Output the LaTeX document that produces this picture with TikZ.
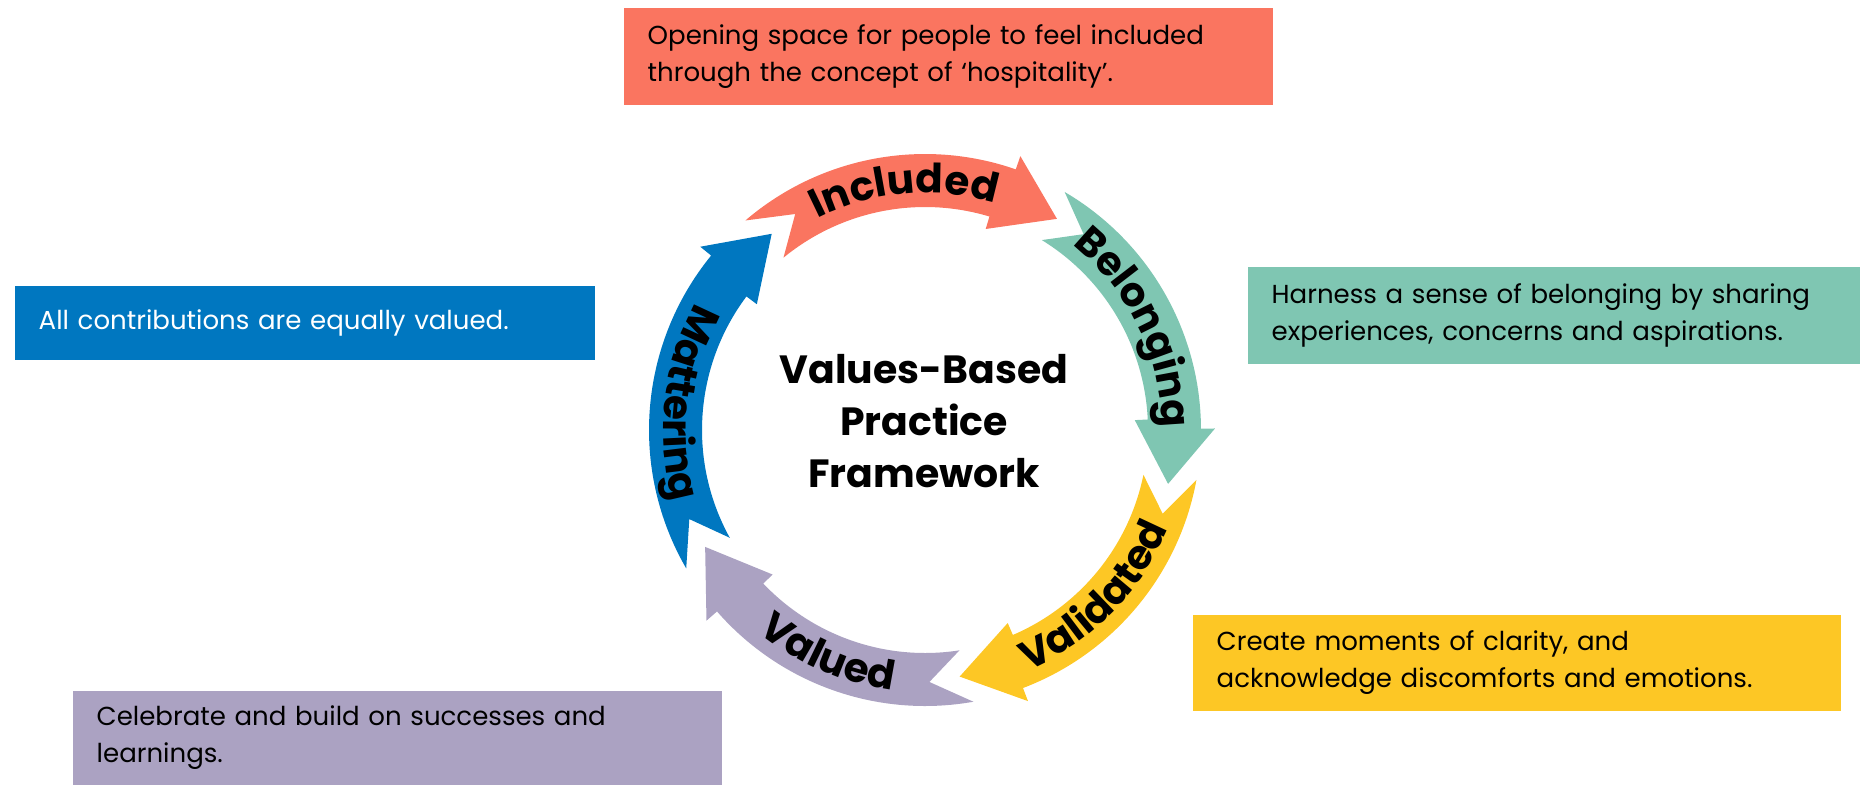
\documentclass[tikz,border=0pt]{standalone}
\usepackage{fontspec}
\setmainfont{Poppins}
\usetikzlibrary{decorations.text}

\definecolor{inclred}{HTML}{FA7560}
\definecolor{belgreen}{HTML}{7FC6B2}
\definecolor{validyellow}{HTML}{FDC725}
\definecolor{valpurple}{HTML}{ABA2C2}
\definecolor{matblue}{HTML}{0077C0}

% ring radii (px)
\newcommand{\ringout}{276}
\newcommand{\ringin}{223}
\newcommand{\barbout}{290}
\newcommand{\barbin}{210}
\newcommand{\tipr}{249}
\newcommand{\notchr}{252}
\newcommand{\ringfont}{\bfseries\fontsize{11.5}{12}\selectfont}
\newcommand{\boxfont}{\fontsize{7.4}{10.5}\selectfont}

% colour, tail, notch, barb, tip (angles)
\newcommand{\ringarrow}[5]{%
  \fill[#1] (#2+0.6:\ringout) arc[start angle=#2+0.6, end angle=#4-1.2, radius=\ringout]
    -- (#4-1.2:\barbout) -- (#5:\tipr) -- (#4+1.2:\barbin) -- (#4+1.2:\ringin)
    arc[start angle=#4+1.2, end angle=#2-0.6, radius=\ringin] -- (#3:\notchr) -- cycle;}

\begin{document}
\begin{tikzpicture}[x=0.01cm,y=0.01cm,
    textbox/.style={anchor=north west,inner xsep=0.24cm,inner ysep=0pt,align=left,font=\boxfont},
    ringlabel/.style={decorate,decoration={text along path,text align=center,text={|\ringfont|#1}}}]

  \useasboundingbox (0,0) rectangle (1860,-784);

  % Text boxes
  \node[textbox,fill=inclred,text width=6.01cm,minimum height=0.97cm] (incl) at (623,-7)
    {Opening space for people to feel included\\through the concept of ‘hospitality’.};
  \node[textbox,fill=belgreen,text width=5.65cm,minimum height=0.97cm] (bel) at (1247,-266)
    {Harness a sense of belonging by sharing\\experiences, concerns and aspirations.};
  \node[textbox,fill=validyellow,text width=6.00cm,minimum height=0.96cm] (valid) at (1192,-614)
    {Create moments of clarity, and\\acknowledge discomforts and emotions.};
  \node[textbox,fill=valpurple,text width=6.01cm,minimum height=0.94cm] (valu) at (72,-690)
    {Celebrate and build on successes and\\learnings.};
  \node[textbox,fill=matblue,text=white,text width=5.32cm,minimum height=0.74cm] (mat) at (14,-285)
    {All contributions are equally valued.};

  % Circular arrows
  \begin{scope}[shift={(925,-430)}]
    \ringarrow{inclred}{130}{121}{72}{58}
    \ringarrow{belgreen}{59}{51}{1.5}{-12.5}
    \ringarrow{validyellow}{-11}{-19.4}{-68}{-82}
    \ringarrow{valpurple}{-80.5}{-89}{-137.7}{-152}
    \ringarrow{matblue}{209.5}{200.7}{142}{128}

    % labels on the arrows
    \path[ringlabel=Included] (130:237) arc[start angle=130,end angle=60,radius=237];
    \path[ringlabel=Belonging] (61:237) arc[start angle=61,end angle=-9,radius=237];
    \path[ringlabel=Validated] (-79.4:262) arc[start angle=-79.4,end angle=-9.4,radius=262];
    \path[ringlabel=Valued] (-148.4:262) arc[start angle=-148.4,end angle=-78.4,radius=262];
    \path[ringlabel=Mattering] (138.5:262) arc[start angle=138.5,end angle=208.5,radius=262];

    \node[font=\bfseries\fontsize{11.2}{14.8}\selectfont,align=center] (title) at (-1,9)
      {Values-Based\\Practice\\Framework};
  \end{scope}
\end{tikzpicture}
\end{document}
